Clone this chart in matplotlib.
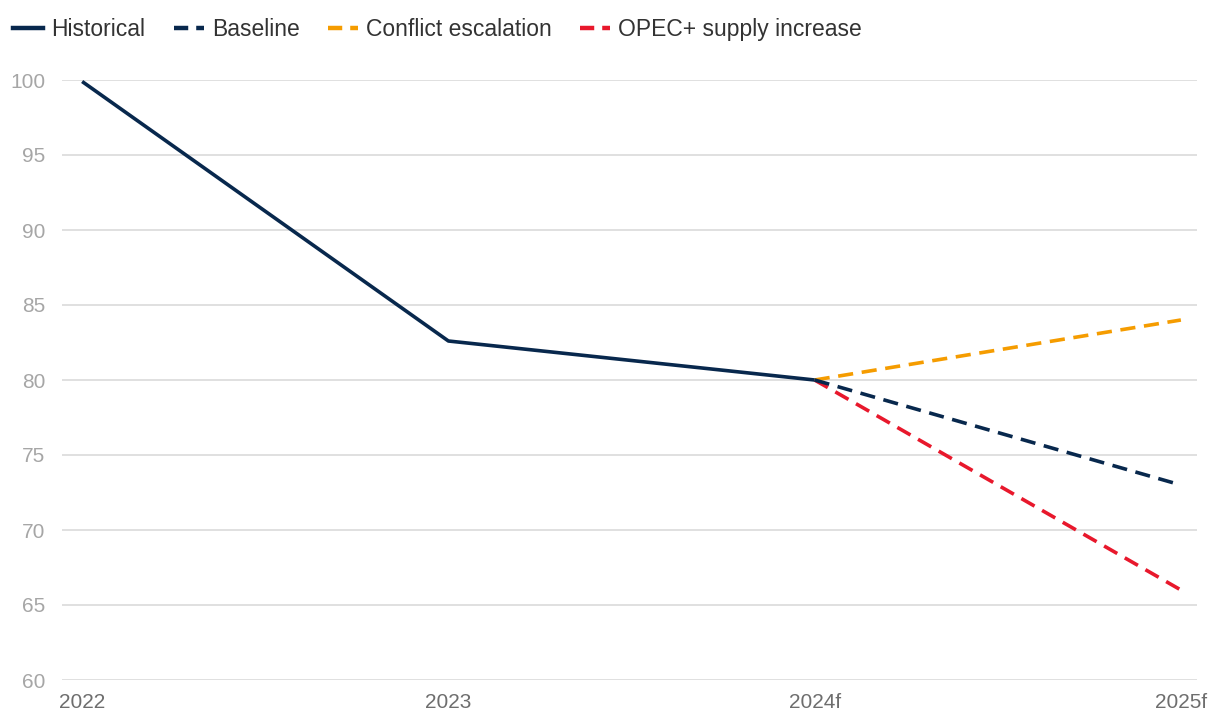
import matplotlib
matplotlib.use("Agg")
import matplotlib.pyplot as plt
from matplotlib.lines import Line2D

# chart data
years = ["2022", "2023", "2024f", "2025f"]
historical = [99.9, 82.6, 80.0]
baseline = [80.0, 73.0]
conflict = [80.0, 84.0]
opec = [80.0, 66.0]

navy = "#08284d"
orange = "#f59c00"
red = "#e8182c"

plt.rcParams["font.family"] = ["Liberation Sans", "DejaVu Sans"]

fig = plt.figure(figsize=(12.2, 7.26), dpi=100)
ax = fig.add_axes([62 / 1220, 46 / 726, 1135 / 1220, 600 / 726])

x_hist = list(range(len(historical)))
x_fc = [len(historical) - 1, len(historical)]

ax.plot(x_hist, historical, color=navy, lw=2.6, solid_capstyle="butt",
        label="Historical", clip_on=False, zorder=5)
ax.plot(x_fc, baseline, color=navy, lw=2.6, dashes=(4.2, 2.4),
        label="Baseline", clip_on=False, zorder=4)
ax.plot(x_fc, conflict, color=orange, lw=2.6, dashes=(4.2, 2.4),
        label="Conflict escalation", clip_on=False, zorder=3)
ax.plot(x_fc, opec, color=red, lw=2.6, dashes=(4.2, 2.4),
        label="OPEC+ supply increase", clip_on=False, zorder=2)

ax.set_xlim(-0.055, 3.044)
ax.set_ylim(60, 100)
ax.set_xticks(range(len(years)))
ax.set_xticklabels(years)
ax.set_yticks(range(60, 101, 5))

ax.grid(axis="y", color="#e0e0e0", lw=1.4)
ax.grid(axis="x", visible=False)
ax.set_axisbelow(True)
for s in ax.spines.values():
    s.set_visible(False)
ax.tick_params(axis="both", length=0)
ax.tick_params(axis="y", labelsize=15, labelcolor="#a6a6a6", pad=12)
ax.tick_params(axis="x", labelsize=15, labelcolor="#6e6e6e", pad=9)

handles = [
    Line2D([], [], color=navy, lw=3.2),
    Line2D([], [], color=navy, lw=3.2, dashes=(3.2, 1.8)),
    Line2D([], [], color=orange, lw=3.2, dashes=(3.2, 1.8)),
    Line2D([], [], color=red, lw=3.2, dashes=(3.2, 1.8)),
]
labels = ["Historical", "Baseline", "Conflict escalation", "OPEC+ supply increase"]
fig.legend(handles, labels, loc="upper left", bbox_to_anchor=(-0.004, 1.0),
           ncol=4, frameon=False, fontsize=16.5, handlelength=1.3,
           handletextpad=0.35, columnspacing=1.25, labelcolor="#333333",
           borderaxespad=0.4)

fig.savefig("out.png", dpi=100, facecolor="white")
